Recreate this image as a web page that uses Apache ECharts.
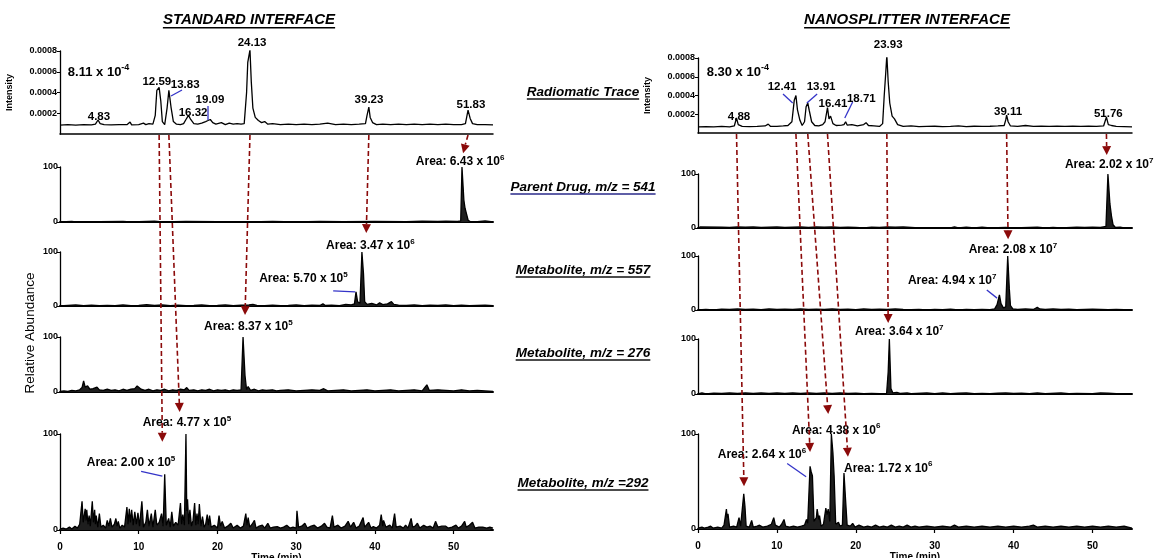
<!DOCTYPE html>
<html>
<head>
<meta charset="utf-8">
<script src="https://cdn.jsdelivr.net/npm/echarts@6/dist/echarts.min.js"></script>
<style>
  html, body { margin: 0; padding: 0; background: #fff; }
  #main { width: 1157px; height: 558px; }
</style>
</head>
<body>
<div id="main"></div>
<script>
// ---- data (time in min; radiomatic intensity in units of 1e-4; MS traces in % relative abundance) ----
const RADIO_UNIT = 1e-4;

const radioStd = [[0,0.85],[1,0.9],[2,0.85],[3,0.9],[4,0.88],[4.5,0.95],[4.83,1.35],[5.1,1.0],[5.6,0.9],[6.5,0.88],[7.5,0.9],[8.5,0.9],[8.9,1.15],[9.1,0.88],[10,0.9],[10.6,1.05],[10.9,0.9],[11.3,1.0],[11.8,0.95],[12.1,1.8],[12.3,4.2],[12.59,4.5],[12.8,3.2],[13.0,1.2],[13.3,0.9],[13.6,2.5],[13.83,4.2],[14.1,2.6],[14.4,1.2],[14.8,0.95],[15.3,0.9],[15.7,1.0],[16.0,1.4],[16.32,1.8],[16.6,1.4],[17.0,1.0],[17.5,0.95],[18.0,1.05],[18.5,1.2],[18.8,1.3],[19.09,1.4],[19.4,1.1],[19.8,0.95],[20.5,1.1],[21,0.9],[21.5,1.05],[22,0.95],[22.5,1.0],[23,0.95],[23.4,1.0],[23.7,4.0],[23.85,6.9],[24.0,7.0],[24.13,8.1],[24.3,5.0],[24.5,2.5],[24.8,1.6],[25.2,1.3],[25.6,1.1],[26.0,1.2],[26.4,0.95],[27,1.0],[28,0.9],[29,0.95],[30,0.9],[31,0.95],[32,0.9],[33,0.95],[34,1.05],[35,0.9],[36,0.95],[37,0.9],[38,0.95],[38.8,1.0],[39.0,1.8],[39.23,2.6],[39.4,1.6],[39.7,1.1],[40.2,0.9],[41,0.95],[42,0.9],[43,0.95],[44,0.9],[45,0.95],[46,0.9],[47,0.95],[48,0.9],[49,0.95],[50,0.9],[51,0.9],[51.5,1.0],[51.83,2.3],[52.1,1.5],[52.4,1.0],[53,0.9],[54,0.9],[55,0.88]];
const msStd541 = [[0,0],[1.5,1],[2,0],[5,0.5],[8,1],[9,0],[12,1.5],[13,0],[16,1],[20,0.5],[24,0],[27,1],[30,0],[33,1],[36,0.5],[40,1],[44,0.5],[46,1.5],[48,1],[49,1.5],[50.5,1],[50.9,2],[51.06,100],[51.3,40],[51.45,25],[51.7,24],[51.85,3],[52.2,0],[53,0.5],[54,2],[55,0]];
const msStd557 = [[0,0],[1,1],[2,2],[3,0.5],[4,1.5],[5,0.5],[6,1],[7,0.5],[8,2],[9,0.5],[10,1],[11,2.5],[12,1],[13,2],[14,0.5],[15,1.5],[16,0.5],[17,1],[18,2],[19,0.5],[20,1],[21,2],[22,0.5],[23,1.5],[24,2],[24.5,3],[25,1],[26,0.5],[27,1.5],[28,0.5],[29,1],[30,2],[31,0.5],[32,1.5],[33,1],[33.4,4],[33.7,1],[34.5,1.5],[35.5,0.5],[36.3,3],[37,2],[37.4,4],[37.6,26],[37.8,8],[38.1,5],[38.35,100],[38.55,60],[38.7,8],[39,3],[39.6,5],[40.2,2],[40.6,6],[41,2.5],[41.6,4],[42.1,8],[42.4,3],[43,1.5],[44,1],[45,2],[46,0.5],[47,1.5],[48,1],[49,2],[50,0.5],[51,1.5],[52,0.5],[53,1],[54,1.5],[55,0.5]];
const msStd276 = [[0,1],[0.5,2],[1,1],[1.5,3],[2,2],[2.5,4],[2.8,8],[3.0,20],[3.2,9],[3.5,11],[3.8,5],[4.2,6],[4.7,9],[5.0,4],[5.5,3],[6,5],[6.5,3],[7,4],[7.5,2],[8,5],[8.5,3],[9,5],[9.5,6],[9.8,11],[10.0,12],[10.3,5],[10.8,3],[11.3,5],[11.8,2],[12.3,4],[12.8,3],[13.3,5],[13.8,2],[14.3,4],[14.8,3],[15.3,5],[15.8,4],[16.1,8],[16.4,3],[17,4],[17.5,2],[18,4],[18.5,3],[19,5],[19.5,2],[20,4],[20.5,3],[21,4],[21.5,2],[22,4],[22.5,3],[23.0,4],[23.25,100],[23.5,30],[23.7,4],[23.9,10],[24.2,3],[24.7,5],[25.2,2],[25.7,4],[26.2,3],[27,4],[27.5,2],[28,3],[29,4],[30,2],[31,3],[32,4],[33,3],[33.5,6],[34,2],[35,3],[36,4],[37,2],[38,3],[39,4],[40,2],[41,3],[42,4],[43,2],[44,3],[45,4],[46,2],[46.6,13],[46.9,3],[48,4],[49,3],[50,2],[51,4],[52,2],[53,3],[54,2],[55,1]];
const msStd292 = [[0,1],[0.4,2],[0.8,1],[1.2,3],[1.5,1],[1.9,4],[2.2,2],[2.5,6],[2.8,30],[2.95,8],[3.2,22],[3.3,10],[3.4,21],[3.55,6],[3.7,15],[3.85,4],[4.1,30],[4.25,8],[4.4,21],[4.5,6],[4.6,15],[4.8,3],[5.0,17],[5.2,3],[5.5,5],[5.8,2],[6.0,10],[6.2,4],[6.4,12],[6.6,3],[6.9,6],[7.1,12],[7.25,4],[7.4,9],[7.6,2],[7.9,5],[8.2,3],[8.5,24],[8.65,6],[8.8,22],[8.95,8],[9.1,21],[9.3,5],[9.5,19],[9.7,6],[9.9,18],[10.1,4],[10.4,30],[10.6,3],[10.9,8],[11.1,21],[11.3,4],[11.6,17],[11.8,3],[12.1,21],[12.3,5],[12.6,8],[12.9,17],[13.1,4],[13.3,58],[13.5,5],[13.8,12],[14.0,3],[14.2,19],[14.4,4],[14.7,8],[15.0,5],[15.3,28],[15.45,6],[15.6,16],[15.8,5],[16.0,100],[16.1,20],[16.2,32],[16.35,6],[16.5,21],[16.7,4],[16.9,10],[17.1,28],[17.25,5],[17.4,17],[17.55,6],[17.7,27],[17.9,4],[18.1,14],[18.3,3],[18.5,6],[18.7,16],[18.85,5],[19.0,15],[19.2,3],[19.6,5],[20.0,2],[20.2,15],[20.4,4],[20.6,9],[20.9,2],[21.3,4],[21.7,7],[22.0,2],[22.5,5],[22.9,2],[23.3,4],[23.6,17],[23.75,5],[23.9,13],[24.1,3],[24.4,6],[24.7,10],[24.9,2],[25.3,4],[25.7,5],[26.0,2],[26.4,7],[26.7,2],[27.1,3],[27.6,3.5],[28.0,2],[28.4,3],[28.8,5],[29.2,2],[29.6,3],[30.0,2],[30.1,20],[30.3,3],[30.7,4],[31.1,7],[31.4,2],[31.9,4],[32.3,5],[32.7,2],[33.2,4],[33.6,7],[33.9,3],[34.3,2],[34.6,15],[34.8,3],[35.3,5],[35.7,2],[36.2,4],[36.6,9],[36.9,3],[37.3,8],[37.6,2],[38.0,4],[38.5,13],[38.7,3],[39.2,8],[39.5,2],[39.8,3.5],[40.2,2],[40.6,5],[40.8,16],[41.0,4],[41.1,10],[41.4,3],[41.9,5],[42.2,2],[42.5,17],[42.7,3],[43.2,4],[43.6,2],[43.9,5],[44.2,2],[44.6,12],[44.8,3],[45.1,4],[45.4,7],[45.7,2],[46.2,5],[46.6,3],[47.0,4],[47.4,2],[47.7,9],[48.0,3],[48.5,4],[49.0,4],[49.3,2],[49.8,3],[50.3,5],[50.6,2],[51.0,4],[51.4,9],[51.6,3],[52.0,5],[52.4,8],[52.7,2],[53.2,3],[53.7,3],[54.2,2],[54.6,3],[55,2]];

const radioNano = [[0,0.65],[1,0.68],[2,0.65],[3,0.7],[4,0.66],[4.6,0.75],[4.88,1.6],[5.1,0.9],[5.6,0.7],[6.5,0.68],[7.5,0.7],[8.5,0.75],[8.9,0.95],[9.2,0.7],[10,0.7],[10.8,0.75],[11.4,0.8],[11.9,1.2],[12.2,3.5],[12.41,4.0],[12.6,2.5],[12.9,1.4],[13.2,0.8],[13.5,1.2],[13.7,2.8],[13.91,3.2],[14.1,2.4],[14.4,1.2],[14.8,0.8],[15.3,0.75],[15.8,0.9],[16.1,1.2],[16.41,2.7],[16.6,1.5],[16.8,1.8],[17.1,1.0],[17.5,0.8],[18.2,0.85],[18.5,0.9],[18.71,1.2],[18.9,0.85],[19.5,0.9],[20.2,0.75],[21.0,0.9],[21.3,1.1],[21.6,0.8],[22.3,0.75],[23.0,0.7],[23.4,1.0],[23.6,4.0],[23.8,6.5],[23.93,8.3],[24.1,5.5],[24.3,3.2],[24.6,1.8],[24.9,1.5],[25.3,0.9],[26,0.7],[27,0.75],[28,0.68],[29,0.7],[30,0.72],[31,0.68],[32,0.7],[33,0.75],[34,0.68],[35,0.72],[36,0.7],[37,0.72],[38,0.75],[38.8,0.8],[39.0,1.4],[39.11,1.9],[39.3,1.2],[39.6,0.75],[40.5,0.7],[41.5,0.8],[42.5,0.7],[43.5,0.72],[44.5,0.7],[45.5,0.72],[46.5,0.7],[47.5,0.72],[48.5,0.7],[49.5,0.72],[50.5,0.7],[51.4,0.75],[51.76,1.7],[52.0,0.9],[52.4,0.8],[53,0.7],[54,0.68],[55,0.66]];
const msNano541 = [[0,0],[0.3,2],[0.5,0],[3,1.5],[4,1],[5,2],[6,1.5],[7,2],[8,1],[9,1.5],[10,2],[11,1],[12,1.5],[13,2],[14,1],[15,2],[16,1.5],[17,2],[18,1],[19,1.5],[20,1],[21,0],[22,1.5],[23,1],[24,2],[25,1.5],[26,2],[27,1],[28,0],[32,0],[32.5,2],[33,0],[34,1.5],[35,0],[36,1.5],[37,0],[39,1],[40,0],[43,1.5],[44,0],[45,1],[46,0],[48,1.5],[49,1],[50,1.5],[51,1],[51.7,3],[51.95,100],[52.2,45],[52.4,22],[52.6,6],[52.9,1],[53.5,1.5],[54,0],[55,0]];
const msNano557 = [[0,0],[1,1],[2,0],[3,1.5],[4,1],[5,2],[6,1],[7,1.5],[8,0.5],[9,2],[10,1],[11,1.5],[12,1],[13,2],[14,1],[15,1.5],[16,1],[17,2],[18,1],[19,1.5],[20,0.5],[21,2],[22,1],[23,1.5],[24,1],[25,2],[26,1],[27,0.5],[28,1],[29,0],[30,1],[31,0.5],[32,1.5],[33,0],[34,1],[35,0.5],[36,1],[37,0.5],[37.6,2],[37.9,10],[38.2,28],[38.4,12],[38.7,4],[39.0,6],[39.25,100],[39.45,40],[39.6,8],[39.9,2],[40.5,1],[41.5,2],[42.5,1],[43.0,5],[43.3,2],[44,1],[45,2],[46,1],[47,1.5],[48,0.5],[49,1],[50,1.5],[51,1],[52,0.5],[53,1],[54,0.5],[55,0]];
const msNano276 = [[0,0],[0.5,2],[1,0],[2,1.5],[3,1],[4,2],[5,1],[6,2],[7,1],[8,2],[9,1],[10,2],[11,1],[12,2],[13,1],[14,2],[15,1],[16,2],[17,1],[18,2],[19,1],[20,1.5],[21,0.5],[22,1],[23,0.5],[23.9,1],[24.1,40],[24.25,100],[24.45,10],[24.7,2],[25.2,3],[25.6,1],[26.5,2],[27,0.5],[29,2],[30,0.5],[31,2],[32,0.5],[33,1.5],[34,2],[35,0.5],[36,1],[37,0.5],[38,1.5],[39,2],[40,1],[41,1.5],[42,0.5],[43,2],[44,0.5],[46,2],[47,0.5],[48,1],[50,0.5],[51,2],[52,1.5],[53,0.5],[55,0]];
const msNano292 = [[0,1],[0.5,2],[0.65,4],[0.8,1],[1.3,2],[1.6,3],[1.9,1],[2.5,2],[3.0,1],[3.3,4],[3.6,21],[3.7,12],[3.8,16],[4.0,2],[4.5,3],[4.9,2],[5.2,12],[5.4,3],[5.6,5],[5.8,37],[5.95,24],[6.1,3],[6.5,2],[6.8,9],[7.0,2],[7.5,3],[7.8,4],[8.2,2],[8.8,3],[9.3,5],[9.6,12],[9.8,4],[10.3,2],[10.6,5],[10.9,10],[11.1,3],[11.6,2],[12.1,3],[12.6,2],[13.1,3],[13.5,4],[13.75,10],[13.9,6],[14.2,66],[14.35,60],[14.5,56],[14.7,8],[15.0,12],[15.1,21],[15.3,10],[15.4,14],[15.6,3],[15.9,5],[16.2,22],[16.35,15],[16.5,21],[16.7,8],[16.9,100],[17.1,80],[17.25,56],[17.45,5],[17.8,7],[18.0,3],[18.3,4],[18.5,59],[18.7,31],[18.9,4],[19.3,3],[19.6,6],[19.9,2],[20.4,4],[21,2],[21.5,3],[22,2],[22.5,4],[23,2],[23.5,3],[24,2],[24.5,4],[25,2],[25.5,3],[26,2],[26.5,4],[27,2],[27.5,3],[28,2],[29,3],[30,2],[31,3],[32,2],[32.5,4],[33,2],[34,3],[35,2],[36,3],[37,2],[38,3],[39,2],[40,3],[41,2],[42,3],[42.5,4],[43,2],[44,3],[45,2],[46,3],[47,2],[48,3],[49,2],[50,3],[51,2],[52,3],[53,2],[54,3],[55,1]];

// panel order: 0-4 standard interface, 5-9 nanosplitter interface
const TRACES = [radioStd, msStd541, msStd557, msStd276, msStd292,
                radioNano, msNano541, msNano557, msNano276, msNano292];

const X_TICKS = [0, 10, 20, 30, 40, 50];
const PANEL_TITLES = ['STANDARD INTERFACE', 'NANOSPLITTER INTERFACE'];
const TRACE_NAMES = ['Radiomatic Trace', 'Parent Drug, m/z = 541', 'Metabolite, m/z = 557',
                     'Metabolite, m/z = 276', 'Metabolite, m/z =292'];

// radiomatic peak labels: [panel, text, time, intensity(1e-4)] -> anchor = label centre
const radioLabels = [
  [0,'4.83',4.95,1.64],[0,'12.59',12.3,5.01],[0,'13.83',15.9,4.72],[0,'16.32',16.9,2.02],
  [0,'19.09',19.05,3.28],[0,'24.13',24.4,8.77],[0,'39.23',39.25,3.28],[0,'51.83',52.2,2.8],
  [5,'4.88',5.2,1.71],[5,'12.41',10.65,4.91],[5,'13.91',15.6,4.91],[5,'16.41',17.1,3.09],
  [5,'18.71',20.7,3.63],[5,'23.93',24.1,9.39],[5,'39.11',39.3,2.24],[5,'51.76',52.0,2.03]
];
// full-scale intensity note: [panel, text, time, intensity] -> anchor = left of text
const scaleNotes = [[0, '8.11 x 10^-4', 1.0, 5.98], [5, '8.30 x 10^-4', 1.1, 6.51]];

// area annotations: [panel, text, time, abundance] -> anchor = left of text
const areaNotes = [
  [1, 'Area: 6.43 x 10^6', 45.2, 109], [2, 'Area: 3.47 x 10^6', 33.8, 111],
  [2, 'Area: 5.70 x 10^5', 25.3, 50],  [3, 'Area: 8.37 x 10^5', 18.3, 118],
  [4, 'Area: 4.77 x 10^5', 10.5, 112], [4, 'Area: 2.00 x 10^5', 3.4, 70],
  [6, 'Area: 2.02 x 10^7', 46.5, 117], [7, 'Area: 2.08 x 10^7', 34.3, 111],
  [7, 'Area: 4.94 x 10^7', 26.6, 54],  [8, 'Area: 3.64 x 10^7', 19.9, 113],
  [9, 'Area: 2.64 x 10^6', 2.5, 78],   [9, 'Area: 4.38 x 10^6', 11.9, 104],
  [9, 'Area: 1.72 x 10^6', 18.5, 64]
];

// dashed correlation arrows: [radiomatic panel, radiomatic RT, target panel, tip time, tip abundance]
const ARROWS = [
  [0, 12.59, 4, 13.0, 92], [0, 13.83, 4, 15.2, 123], [0, 24.13, 3, 23.5, 140],
  [0, 39.23, 2, 38.9, 135], [0, 51.83, 1, 51.2, 125],
  [5, 4.88, 9, 5.83, 45], [5, 12.41, 9, 14.2, 81], [5, 13.91, 9, 16.5, 121],
  [5, 16.41, 9, 19.0, 76], [5, 23.93, 8, 24.1, 129], [5, 39.11, 7, 39.3, 131],
  [5, 51.76, 6, 51.8, 135]
];
// blue leader lines: [panel, t1, v1, t2, v2]
const LEADERS = [
  [0, 14.1, 3.66, 15.5, 4.24], [0, 18.8, 2.7, 18.8, 1.35],
  [5, 10.77, 4.16, 12.0, 3.2], [5, 13.8, 3.2, 15.1, 4.16], [5, 18.6, 1.6, 19.6, 3.3],
  [2, 34.7, 28, 37.5, 26], [4, 10.3, 61, 13.0, 56],
  [7, 36.6, 37, 37.9, 22], [9, 11.3, 69, 13.7, 55]
];

// ---- layout ----
const FONT = '"Liberation Sans", Arial, sans-serif';
const RED = '#8b0a0a';
const BLUE = '#3434c8';
const GRID_BOXES = [
  {left: 60, top: 51, width: 433, height: 83},
  {left: 60, top: 167, width: 433, height: 55},
  {left: 60, top: 252, width: 433, height: 54},
  {left: 60, top: 337, width: 433, height: 55},
  {left: 60, top: 434, width: 433, height: 96},
  {left: 698, top: 58, width: 434, height: 75},
  {left: 698, top: 174, width: 434, height: 54},
  {left: 698, top: 256, width: 434, height: 54},
  {left: 698, top: 339, width: 434, height: 55},
  {left: 698, top: 434, width: 434, height: 95}
];
const isRadio = i => i === 0 || i === 5;
const isBottom = i => i === 4 || i === 9;

const RICH = {
  b: {fontSize: 12, fontWeight: 'bold', fontFamily: FONT, fill: '#000'},
  s: {fontSize: 8, fontWeight: 'bold', fontFamily: FONT, fill: '#000', padding: [0, 0, 8, 0]},
  p: {fontSize: 11.5, fontWeight: 'bold', fontFamily: FONT, fill: '#000'},
  m: {fontSize: 13, fontWeight: 'bold', fontFamily: FONT, fill: '#000'},
  ms: {fontSize: 9, fontWeight: 'bold', fontFamily: FONT, fill: '#000', padding: [0, 0, 9, 0]}
};
function supText(str, main, sup) {
  const parts = str.split('^');
  return '{' + main + '|' + parts[0] + '}' + (parts[1] ? '{' + sup + '|' + parts[1] + '}' : '');
}

const chart = echarts.init(document.getElementById('main'));

const grids = GRID_BOXES.map(b => ({left: b.left, top: b.top, width: b.width, height: b.height,
  outerBoundsMode: 'none'}));

const xAxes = GRID_BOXES.map((b, i) => ({
  type: 'value', gridIndex: i, min: 0, max: 55, interval: 10,
  axisLine: {show: true, onZero: false, lineStyle: {color: '#000', width: isRadio(i) ? 1.5 : 2}},
  axisTick: {show: isBottom(i), length: 4, lineStyle: {color: '#000', width: 1.2}},
  axisLabel: {show: isBottom(i), color: '#000', fontSize: 10, fontWeight: 'bold', fontFamily: FONT,
    margin: 12, showMaxLabel: false,
    formatter: v => X_TICKS.indexOf(v) >= 0 ? String(v) : ''},
  splitLine: {show: false},
  name: isBottom(i) ? 'Time (min)' : '', nameLocation: 'middle', nameGap: 23,
  nameTextStyle: {color: '#000', fontSize: 10, fontWeight: 'bold', fontFamily: FONT}
}));

const yAxes = GRID_BOXES.map((b, i) => isRadio(i) ? {
  type: 'value', gridIndex: i, min: 0, max: 8, interval: 2,
  axisLine: {show: true, lineStyle: {color: '#000', width: 1.3}},
  axisTick: {show: true, length: 3, lineStyle: {color: '#000'}},
  axisLabel: {color: '#000', fontSize: 9, fontWeight: 'bold', fontFamily: FONT, margin: 3,
    showMinLabel: false, formatter: v => (v * RADIO_UNIT).toFixed(4)},
  splitLine: {show: false},
  name: 'Intensity', nameLocation: 'middle', nameGap: 46,
  nameTextStyle: {color: '#000', fontSize: 9, fontWeight: 'bold', fontFamily: FONT}
} : {
  type: 'value', gridIndex: i, min: 0, max: 100, interval: 100,
  axisLine: {show: true, lineStyle: {color: '#000', width: 1.3}},
  axisTick: {show: true, length: 3, lineStyle: {color: '#000'}},
  axisLabel: {color: '#000', fontSize: 9, fontWeight: 'bold', fontFamily: FONT, margin: 2},
  splitLine: {show: false}
});

const series = TRACES.map((data, i) => ({
  type: 'line', xAxisIndex: i, yAxisIndex: i, data: data,
  symbol: 'none', silent: true, z: 3,
  lineStyle: {color: '#000', width: 1.3},
  areaStyle: isRadio(i) ? null : {color: '#1e1e1e', opacity: 1}
}));

chart.setOption({
  animation: false,
  textStyle: {fontFamily: FONT},
  grid: grids, xAxis: xAxes, yAxis: yAxes, series: series
});

// ---- annotations placed through the chart's own scales ----
const ctx = document.createElement('canvas').getContext('2d');
const graphics = [];
const px = (g, t, v) => chart.convertToPixel({gridIndex: g}, [t, v]);

function underlined(text, cx, cy, size, lineColor) {
  ctx.font = 'italic bold ' + size + 'px "Liberation Sans"';
  const w = ctx.measureText(text).width;
  graphics.push({type: 'text', x: cx, y: cy, silent: true, z: 50,
    style: {text: text, fontSize: size, fontWeight: 'bold', fontStyle: 'italic', fontFamily: FONT,
      fill: '#000', align: 'center', verticalAlign: 'middle'}});
  graphics.push({type: 'rect', silent: true, z: 50,
    shape: {x: cx - w / 2, y: cy + size * 0.47, width: w, height: 1.5}, style: {fill: lineColor}});
}
underlined(PANEL_TITLES[0], 249, 20, 15, '#000');
underlined(PANEL_TITLES[1], 907, 20, 15, '#000');
const midY = [92, 187, 270, 353, 483];
TRACE_NAMES.forEach((t, k) => underlined(t, 583, midY[k], 13.5, k === 1 ? '#2a2a8a' : '#111'));

graphics.push({type: 'text', x: 30, y: 333, rotation: Math.PI / 2, silent: true,
  style: {text: 'Relative Abundance', fontSize: 13.5, fontFamily: FONT, fill: '#000',
    align: 'center', verticalAlign: 'middle'}});

function addLabel(panel, text, t, v, align) {
  const p = px(panel, t, v);
  graphics.push({type: 'text', x: p[0], y: p[1], silent: true, z: 55,
    style: {text: text, rich: RICH, fill: '#000', align: align, verticalAlign: 'middle'}});
}
radioLabels.forEach(l => addLabel(l[0], '{p|' + l[1] + '}', l[2], l[3], 'center'));
scaleNotes.forEach(n => addLabel(n[0], supText(n[1], 'm', 'ms'), n[2], n[3], 'left'));
areaNotes.forEach(n => addLabel(n[0], supText(n[1], 'b', 's'), n[2], n[3], 'left'));

LEADERS.forEach(l => {
  const a = px(l[0], l[1], l[2]), b = px(l[0], l[3], l[4]);
  graphics.push({type: 'line', silent: true, z: 60,
    shape: {x1: a[0], y1: a[1], x2: b[0], y2: b[1]}, style: {stroke: BLUE, lineWidth: 1.3}});
});

ARROWS.forEach(ar => {
  const a = px(ar[0], ar[1], 0), b = px(ar[2], ar[3], ar[4]);
  const dx = b[0] - a[0], dy = b[1] - a[1], len = Math.hypot(dx, dy);
  const ux = dx / len, uy = dy / len, hl = 9, hw = 4.5;
  const base = [b[0] - ux * hl, b[1] - uy * hl];
  graphics.push({type: 'line', silent: true, z: 70,
    shape: {x1: a[0], y1: a[1] + 1, x2: base[0], y2: base[1]},
    style: {stroke: RED, lineWidth: 1.6, lineDash: [5, 3]}});
  graphics.push({type: 'polygon', silent: true, z: 70,
    shape: {points: [b, [base[0] - uy * hw, base[1] + ux * hw], [base[0] + uy * hw, base[1] - ux * hw]]},
    style: {fill: RED}});
});

chart.setOption({graphic: graphics});
</script>
</body>
</html>
